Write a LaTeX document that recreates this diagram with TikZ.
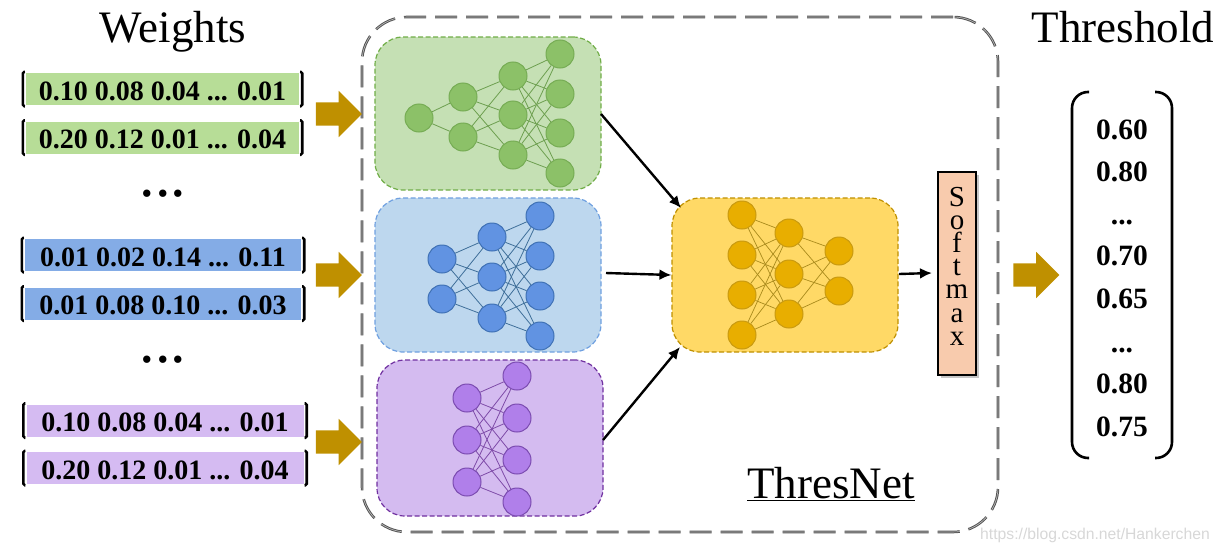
\documentclass[tikz,border=0pt]{standalone}
\usepackage{fontspec}
\setmainfont{Liberation Serif}
\setsansfont{Liberation Sans}
\usetikzlibrary{arrows.meta}
\usetikzlibrary{positioning}
\usetikzlibrary{shapes.arrows}
\usetikzlibrary{shadows}
\definecolor{goldarrow}{HTML}{BF9000}
\definecolor{greenbar}{HTML}{B7DD97}
\definecolor{bluebar}{HTML}{84ACE6}
\definecolor{purplebar}{HTML}{D5BBF2}
\definecolor{greenpanel}{HTML}{C5E0B4}
\definecolor{bluepanel}{HTML}{BDD7EE}
\definecolor{purplepanel}{HTML}{D4BBF0}
\definecolor{yellowpanel}{HTML}{FFD966}
\definecolor{softfill}{HTML}{F8CBAD}
\tikzset{
	rowbar/.style={minimum height=32pt, inner sep=0pt, text height=22.5pt, text depth=0pt, font=\fontsize{28}{28}\selectfont\bfseries},
	rowbracket/.style={line width=2.6pt, rounded corners=1.5pt},
	flowarrow/.style={single arrow, fill=goldarrow, inner xsep=0pt, inner ysep=11.5pt, minimum width=46pt, minimum height=46pt, single arrow head extend=11.5pt, single arrow tip angle=90},
	panel/.style={rounded corners=28pt, dash pattern=on 5pt off 2.5pt, line width=1.2pt, minimum width=226pt, inner sep=0pt},
	neuron/.style={circle, minimum size=28pt, inner sep=0pt, line width=1pt},
	gnode/.style={neuron, fill={rgb,255:red,140;green,193;blue,104}, draw={rgb,255:red,118;green,172;blue,84}},
	bnode/.style={neuron, fill={rgb,255:red,97;green,147;blue,226}, draw={rgb,255:red,63;green,113;blue,181}},
	pnode/.style={neuron, fill={rgb,255:red,176;green,127;blue,234}, draw={rgb,255:red,123;green,75;blue,176}},
	ynode/.style={neuron, fill={rgb,255:red,232;green,174;blue,0}, draw={rgb,255:red,201;green,154;blue,16}},
	gedge/.style={line width=.8pt, draw={rgb,255:red,109;green,159;blue,79}},
	bedge/.style={line width=.8pt, draw={rgb,255:red,63;green,111;blue,153}},
	pedge/.style={line width=.8pt, draw={rgb,255:red,126;green,75;blue,168}},
	yedge/.style={line width=.7pt, draw={rgb,255:red,169;green,138;blue,28}},
	flow/.style={->, line width=2.4pt},
	title/.style={font=\fontsize{45}{45}\selectfont, inner sep=0pt},
	value/.style={font=\fontsize{29.5}{30}\selectfont\bfseries, inner sep=0pt},
}

\begin{document}
\begin{tikzpicture}[x=1pt, y=-1pt, >={Latex[length=12pt,width=11pt]}]
	\useasboundingbox (0,0) rectangle (1217,554);

	\node[title] (weights) at (173,32) {Weights};
	\node[title] (threshold) at (1123,27) {Threshold};

	% weight rows
	\node[rowbar, fill=greenbar, minimum width=273pt] (g1) at (162.5,89) {0.10 0.08 0.04 ... 0.01};
	\node[rowbar, fill=greenbar, minimum width=273pt] (g2) at (162.5,137.5) {0.20 0.12 0.01 ... 0.04};
	\node[rowbar, fill=bluebar, minimum width=276pt] (b1) at (163,255) {0.01 0.02 0.14 ... 0.11};
	\node[rowbar, fill=bluebar, minimum width=276pt] (b2) at (163,303.5) {0.01 0.08 0.10 ... 0.03};
	\node[rowbar, fill=purplebar, minimum width=277pt] (p1) at (165,420.5) {0.10 0.08 0.04 ... 0.01};
	\node[rowbar, fill=purplebar, minimum width=277pt] (p2) at (165,468) {0.20 0.12 0.01 ... 0.04};
	\foreach \r in {g1,g2,b1,b2,p1,p2} {
		\draw[rowbracket] ([shift={(-1,-1)}]\r.north west) -- ([shift={(-3,-1)}]\r.north west) -- ([shift={(-3,1)}]\r.south west) -- ([shift={(-1,1)}]\r.south west);
		\draw[rowbracket] ([shift={(1,-1)}]\r.north east) -- ([shift={(3,-1)}]\r.north east) -- ([shift={(3,1)}]\r.south east) -- ([shift={(1,1)}]\r.south east);
	}
	\node[font=\fontsize{62}{62}\selectfont, inner sep=0pt] (dotsa) at (163,194) {...};
	\node[font=\fontsize{62}{62}\selectfont, inner sep=0pt] (dotsb) at (163,360) {...};

	% ThresNet frame and panels
	\node[draw={rgb,255:red,85;green,85;blue,85}, double={rgb,255:red,190;green,190;blue,190}, double distance=.6pt, line width=1pt, dash pattern=on 22pt off 9pt, rounded corners=45pt, minimum width=636pt, minimum height=515pt, inner sep=0pt] (thresnet) at (680,274.5) {};
	\node[panel, fill=greenpanel, draw={rgb,255:red,112;green,173;blue,71}, minimum height=153pt] (greenbox) at (488,113.5) {};
	\node[panel, fill=bluepanel, draw={rgb,255:red,111;green,160;blue,224}, minimum height=154pt] (bluebox) at (488,275) {};
	\node[panel, fill=purplepanel, draw={rgb,255:red,112;green,48;blue,160}, minimum height=156pt] (purplebox) at (490,438) {};
	\node[panel, fill=yellowpanel, draw=goldarrow, minimum height=154pt] (yellowbox) at (785,275) {};

	\node[flowarrow] (ina) at (333,114) {};
	\node[flowarrow] (inb) at (333,275) {};
	\node[flowarrow] (inc) at (333,442) {};
	\node[flowarrow] (outa) at (1030.5,275) {};

	% networks
	\foreach \n/\x/\y in {g11/419/118, g21/463/97, g22/463/137, g31/513/76, g32/513/115, g33/513/155, g41/560/54, g42/560/94, g43/560/133, g44/560/173}
		\node[gnode] (\n) at (\x,\y) {};
	\foreach \j in {1,2} \draw[gedge] (g11) -- (g2\j);
	\foreach \i in {1,2} \foreach \j in {1,2,3} \draw[gedge] (g2\i) -- (g3\j);
	\foreach \i in {1,2,3} \foreach \j in {1,2,3,4} \draw[gedge] (g3\i) -- (g4\j);

	\foreach \n/\x/\y in {n11/442/259, n12/442/299, n21/492/237, n22/492/277, n23/492/318, n31/540/216, n32/540/256, n33/540/296, n34/540/336}
		\node[bnode] (\n) at (\x,\y) {};
	\foreach \i in {1,2} \foreach \j in {1,2,3} \draw[bedge] (n1\i) -- (n2\j);
	\foreach \i in {1,2,3} \foreach \j in {1,2,3,4} \draw[bedge] (n2\i) -- (n3\j);

	\foreach \n/\x/\y in {v11/467/398, v12/467/440, v13/467/482, v21/517/376, v22/517/418, v23/517/460, v24/517/502}
		\node[pnode] (\n) at (\x,\y) {};
	\foreach \i in {1,2,3} \foreach \j in {1,2,3,4} \draw[pedge] (v1\i) -- (v2\j);

	\foreach \n/\x/\y in {y11/742/215, y12/742/255, y13/742/295, y14/742/335, y21/789/233, y22/789/274, y23/789/314, y31/839/251, y32/839/291}
		\node[ynode] (\n) at (\x,\y) {};
	\foreach \i in {1,2,3,4} \foreach \j in {1,2,3} \draw[yedge] (y1\i) -- (y2\j);
	\foreach \i in {1,2,3} \foreach \j in {1,2} \draw[yedge] (y2\i) -- (y3\j);

	% softmax
	\node[draw=black, line width=1.6pt, fill=softfill, minimum width=38pt, minimum height=203pt, inner sep=0pt, drop shadow={shadow xshift=3pt, shadow yshift=-3pt, opacity=.45}] (softmax) at (957,273.5) {};
	\node[align=center, inner sep=0pt, font=\fontsize{29}{23.2}\selectfont] (softtext) at (957,266) {S\\o\\f\\t\\m\\a\\x};

	\coordinate (gout) at (601,114);
	\coordinate (gin) at (681,208);
	\coordinate (bout) at (606,273);
	\coordinate (pout) at (603,440);
	\coordinate (pin) at (680,347);
	\coordinate (yout) at (899,274);
	\coordinate (sin) at (932,273);
	\draw[flow] (gout) -- (gin);
	\draw[flow] (bout) -- (yellowbox.west);
	\draw[flow] (pout) -- (pin);
	\draw[flow] (yout) -- (sin);

	\node[font=\fontsize{45}{45}\selectfont, inner sep=0pt] (netname) at (831,484) {\underline{ThresNet}};

	% threshold column
	\draw[line width=2.6pt, rounded corners=16pt] (1089,92) -- (1072,92) -- (1072,458) -- (1089,458);
	\draw[line width=2.6pt, rounded corners=16pt] (1155,92) -- (1172,92) -- (1172,458) -- (1155,458);
	\foreach \n/\y/\val in {ta/130/0.60, tb/172/0.80, td/256/0.70, te/299/0.65, tg/384/0.80, th/427/0.75}
		\node[value] (\n) at (1122,\y) {\val};
	\node[value] (tc) at (1122,223) {...};
	\node[value] (tf) at (1122,351) {...};

	\node[font=\fontsize{15.7}{16}\selectfont\sffamily, text={rgb,255:red,215;green,215;blue,215}, inner sep=0pt] (mark) at (1095,535) {https://blog.csdn.net/Hankerchen};
\end{tikzpicture}
\end{document}
